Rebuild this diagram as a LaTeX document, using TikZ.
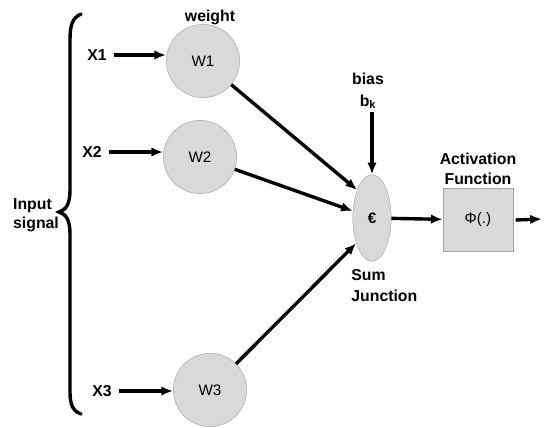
\documentclass[tikz,border=0pt]{standalone}
\usepackage{fontspec}
\setmainfont{Liberation Sans}
\usetikzlibrary{shapes.geometric,arrows.meta}
\tikzset{
  weightnode/.style={circle, draw=gray!70, fill=gray!30, minimum size=2.2cm, inner sep=0pt, font=\fontsize{13}{15}\selectfont},
  sumnode/.style={ellipse, draw=gray!70, fill=gray!30, minimum width=1.15cm, minimum height=2.6cm, inner sep=0pt, font=\bfseries\fontsize{13}{15}\selectfont},
  actbox/.style={rectangle, draw=gray!70, fill=gray!30, minimum width=2.1cm, minimum height=1.9cm, font=\fontsize{13}{15}\selectfont},
  lbl/.style={font=\bfseries\fontsize{13.5}{16}\selectfont, align=center, inner sep=1pt},
  sig/.style={-{Latex[length=10pt,width=8pt]}, line width=2.9pt}
}
\begin{document}
\begin{tikzpicture}[x=0.03cm, y=-0.03cm]
    \useasboundingbox (0,0) rectangle (544,427);

    % input brace
    \draw[line width=2.9pt, line cap=round] (81,14) .. controls (72,18) and (70,26) .. (70,40)
        -- (70,190) .. controls (70,204) and (66,210) .. (59,212)
        .. controls (66,214) and (70,220) .. (70,234)
        -- (70,392) .. controls (70,405) and (73,411) .. (81,414);
    \node[lbl, align=left] (insig) at (36,215) {Input\\signal};

    % weights
    \node[weightnode] (w1) at (203,61) {W1};
    \node[weightnode] (w2) at (200,157) {W2};
    \node[weightnode] (w3) at (210,390) {W3};
    \node[lbl] (wlbl) at (210,17) {weight};

    % inputs
    \node[lbl] (x1) at (97,55) {X1};
    \node[lbl] (x2) at (92,152) {X2};
    \node[lbl] (x3) at (102,391) {X3};
    \draw[sig] (x1.east) ++(5pt,0) -- (x1.east -| w1.west);
    \draw[sig] (x2.east) ++(5pt,0) -- (x2.east -| w2.west);
    \draw[sig] (x3.east) ++(5pt,0) -- (x3.east -| w3.west);

    % sum junction
    \node[sumnode] (sum) at (372,218) {€};
    \node[lbl, align=left, anchor=north west, font=\bfseries\fontsize{13.5}{18}\selectfont] (sumlbl) at (350,268) {Sum\\Junction};
    \draw[sig] (w1) -- (sum.118);
    \draw[sig] (w2) -- (sum.160);
    \draw[sig] (w3) -- (sum.238);

    % bias
    \node[lbl, font=\bfseries\fontsize{13.5}{18}\selectfont] (bias) at (368,91) {bias\\b\textsubscript{k}};
    \coordinate (btop) at (372,112);
    \draw[sig] (btop) -- (sum.north);

    % activation
    \node[actbox] (act) at (478,220) {Φ(.)};
    \node[lbl, anchor=south, font=\bfseries\fontsize{13.5}{17}\selectfont] (actlbl) at ([yshift=2pt]act.north) {Activation\\Function};
    \draw[sig] (sum) -- (act);
    \coordinate (out) at (542,219);
    \draw[sig] (act.east) ++(2pt,0) -- (out);
\end{tikzpicture}
\end{document}
